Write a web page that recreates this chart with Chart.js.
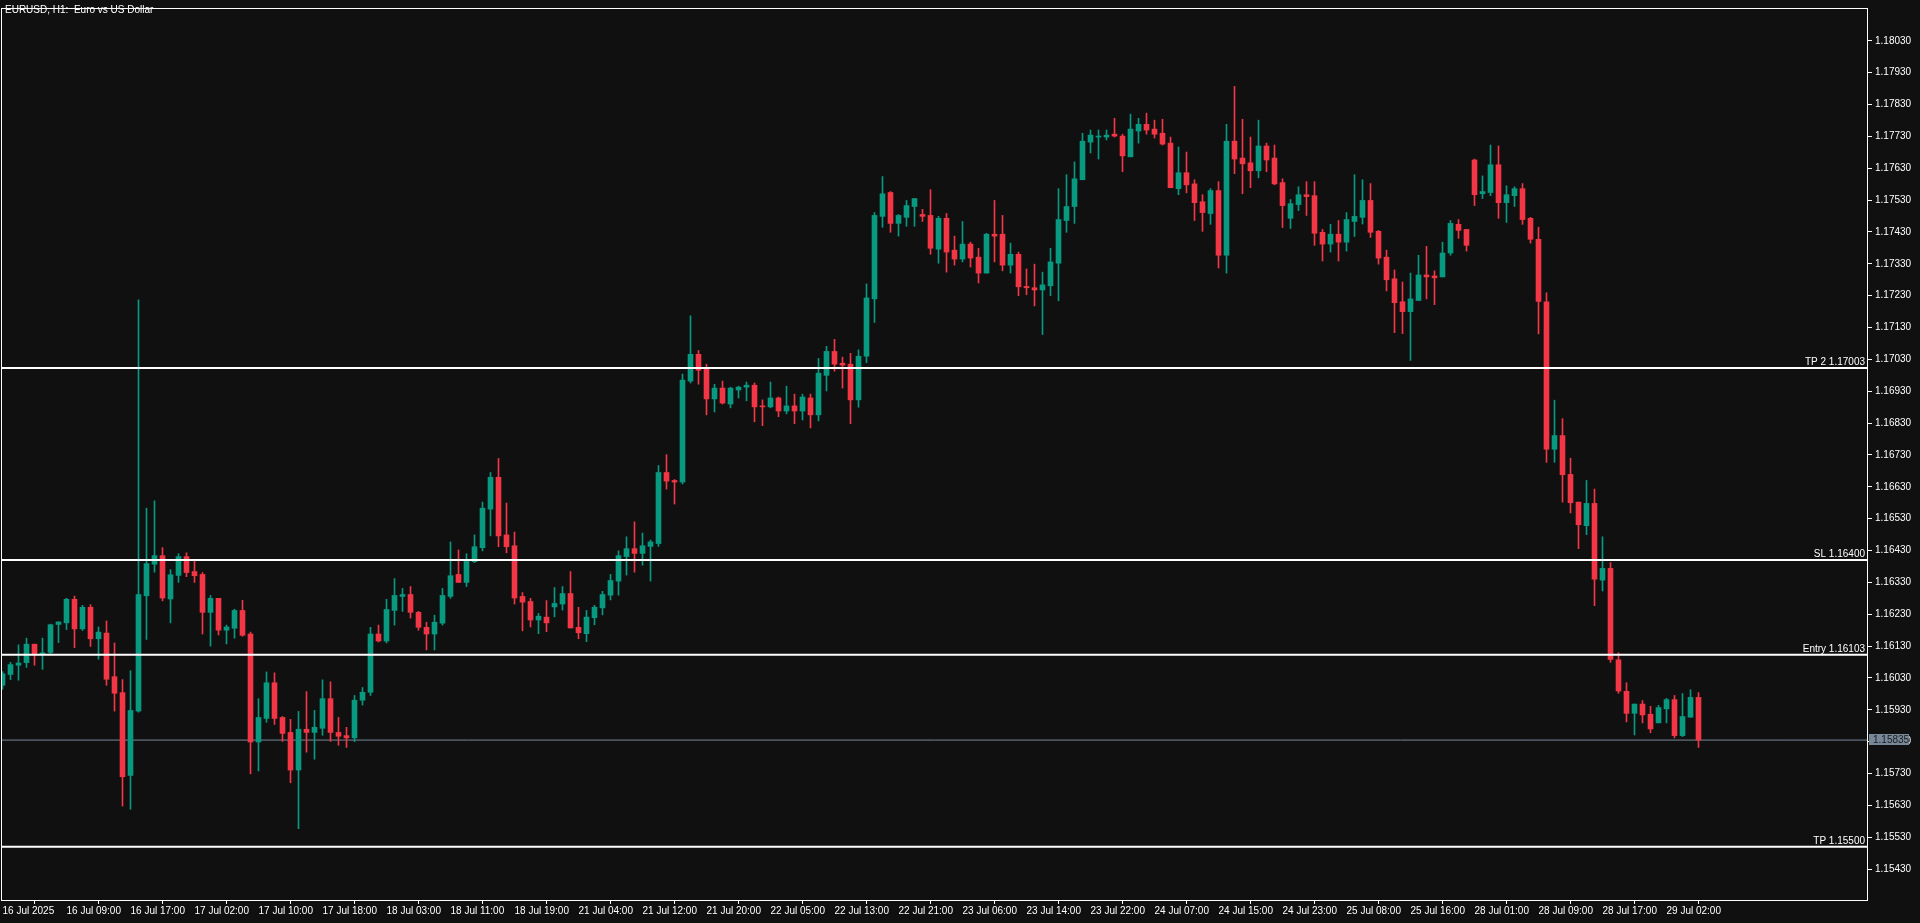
<!DOCTYPE html>
<html>
<head>
<meta charset="utf-8">
<title>EURUSD, H1</title>
<script src="https://cdn.jsdelivr.net/npm/chart.js@4.4.1/dist/chart.umd.min.js"></script>
<style>
  html, body { margin: 0; padding: 0; background: #101010; overflow: hidden; }
</style>
</head>
<body>
<canvas id="chart" width="1920" height="923"></canvas>
<script>
// x-axis labels, one every 8 hourly bars
const timeLabels = ['16 Jul 2025', '16 Jul 09:00', '16 Jul 17:00', '17 Jul 02:00', '17 Jul 10:00', '17 Jul 18:00',
    '18 Jul 03:00', '18 Jul 11:00', '18 Jul 19:00', '21 Jul 04:00', '21 Jul 12:00', '21 Jul 20:00',
    '22 Jul 05:00', '22 Jul 13:00', '22 Jul 21:00', '23 Jul 06:00', '23 Jul 14:00', '23 Jul 22:00',
    '24 Jul 07:00', '24 Jul 15:00', '24 Jul 23:00', '25 Jul 08:00', '25 Jul 16:00', '28 Jul 01:00',
    '28 Jul 09:00', '28 Jul 17:00', '29 Jul 02:00'];

const open = [
    1.16007, 1.16041, 1.16070, 1.16078, 1.16136, 1.16105, 1.16110, 1.16198, 1.16203, 1.16277,
    1.16184, 1.16252, 1.16153, 1.16171, 1.16034, 1.15984, 1.15724, 1.15926, 1.16288, 1.16387,
    1.16414, 1.16278, 1.16352, 1.16411, 1.16364, 1.16355, 1.16236, 1.16280, 1.16180, 1.16186,
    1.16242, 1.16168, 1.15829, 1.15903, 1.16015, 1.15906, 1.15859, 1.15741, 1.15869, 1.15859,
    1.15872, 1.15965, 1.15859, 1.15849, 1.15842, 1.15960, 1.15985, 1.16168, 1.16146, 1.16242,
    1.16286, 1.16292, 1.16236, 1.16189, 1.16168, 1.16202, 1.16286, 1.16355, 1.16330, 1.16395,
    1.16439, 1.16560, 1.16660, 1.16479, 1.16445, 1.16286, 1.16270, 1.16212, 1.16221, 1.16253,
    1.16262, 1.16295, 1.16189, 1.16169, 1.16219, 1.16250, 1.16290, 1.16334, 1.16411, 1.16436,
    1.16421, 1.16443, 1.16452, 1.16675, 1.16650, 1.16645, 1.16962, 1.17046, 1.16999, 1.16906,
    1.16940, 1.16890, 1.16934, 1.16943, 1.16949, 1.16884, 1.16881, 1.16909, 1.16868, 1.16884,
    1.16868, 1.16909, 1.16856, 1.16980, 1.17055, 1.17018, 1.17015, 1.16903, 1.17040, 1.17220,
    1.17479, 1.17554, 1.17457, 1.17476, 1.17510, 1.17485, 1.17482, 1.17376, 1.17473, 1.17373,
    1.17345, 1.17392, 1.17351, 1.17301, 1.17423, 1.17423, 1.17326, 1.17360, 1.17259, 1.17255,
    1.17248, 1.17261, 1.17332, 1.17466, 1.17510, 1.17594, 1.17712, 1.17728, 1.17728, 1.17737,
    1.17731, 1.17666, 1.17747, 1.17768, 1.17753, 1.17740, 1.17709, 1.17566, 1.17616, 1.17581,
    1.17525, 1.17488, 1.17560, 1.17357, 1.17715, 1.17662, 1.17647, 1.17622, 1.17700, 1.17662,
    1.17585, 1.17473, 1.17516, 1.17547, 1.17544, 1.17429, 1.17392, 1.17423, 1.17398, 1.17463,
    1.17476, 1.17529, 1.17432, 1.17351, 1.17283, 1.17211, 1.17180, 1.17215, 1.17295, 1.17292,
    1.17289, 1.17364, 1.17454, 1.17438, 1.17656, 1.17550, 1.17554, 1.17641, 1.17522, 1.17544,
    1.17566, 1.17473, 1.17407, 1.17211, 1.16748, 1.16791, 1.16669, 1.16582, 1.16508, 1.16578,
    1.16337, 1.16374, 1.16087, 1.15988, 1.15919, 1.15948, 1.15916, 1.15889, 1.15933, 1.15962,
    1.15849, 1.15907, 1.15969
];
const high = [
    1.16050, 1.16079, 1.16134, 1.16155, 1.16136, 1.16155, 1.16199, 1.16206, 1.16280, 1.16287,
    1.16258, 1.16260, 1.16190, 1.16209, 1.16140, 1.16025, 1.16053, 1.17217, 1.16563, 1.16586,
    1.16439, 1.16370, 1.16420, 1.16423, 1.16397, 1.16361, 1.16289, 1.16280, 1.16196, 1.16246,
    1.16274, 1.16174, 1.15965, 1.16049, 1.16046, 1.15909, 1.15900, 1.15925, 1.15987, 1.15928,
    1.16024, 1.16018, 1.15906, 1.15875, 1.15975, 1.16000, 1.16189, 1.16196, 1.16277, 1.16342,
    1.16311, 1.16317, 1.16239, 1.16205, 1.16227, 1.16311, 1.16457, 1.16432, 1.16420, 1.16479,
    1.16582, 1.16675, 1.16719, 1.16579, 1.16488, 1.16298, 1.16280, 1.16233, 1.16273, 1.16314,
    1.16317, 1.16364, 1.16252, 1.16242, 1.16258, 1.16302, 1.16355, 1.16429, 1.16473, 1.16520,
    1.16485, 1.16463, 1.16697, 1.16731, 1.16653, 1.16984, 1.17167, 1.17058, 1.17015, 1.16952,
    1.16962, 1.16943, 1.16946, 1.16959, 1.16956, 1.16903, 1.16959, 1.16912, 1.16946, 1.16921,
    1.16921, 1.16921, 1.17033, 1.17071, 1.17093, 1.17037, 1.17049, 1.17060, 1.17267, 1.17491,
    1.17604, 1.17557, 1.17485, 1.17529, 1.17535, 1.17501, 1.17563, 1.17479, 1.17488, 1.17417,
    1.17463, 1.17398, 1.17379, 1.17426, 1.17529, 1.17482, 1.17395, 1.17367, 1.17314, 1.17329,
    1.17304, 1.17379, 1.17566, 1.17610, 1.17650, 1.17740, 1.17750, 1.17750, 1.17750, 1.17787,
    1.17737, 1.17800, 1.17787, 1.17803, 1.17781, 1.17784, 1.17728, 1.17697, 1.17681, 1.17594,
    1.17547, 1.17566, 1.17588, 1.17768, 1.17887, 1.17784, 1.17728, 1.17781, 1.17709, 1.17703,
    1.17597, 1.17532, 1.17572, 1.17588, 1.17588, 1.17438, 1.17454, 1.17466, 1.17491, 1.17610,
    1.17594, 1.17582, 1.17435, 1.17373, 1.17311, 1.17273, 1.17301, 1.17357, 1.17385, 1.17308,
    1.17398, 1.17466, 1.17469, 1.17438, 1.17659, 1.17606, 1.17703, 1.17700, 1.17575, 1.17572,
    1.17582, 1.17476, 1.17445, 1.17239, 1.16902, 1.16844, 1.16720, 1.16582, 1.16650, 1.16623,
    1.16473, 1.16392, 1.16109, 1.16015, 1.15948, 1.15959, 1.15941, 1.15944, 1.15966, 1.15975,
    1.15981, 1.15993, 1.15984
];
const low = [
    1.15995, 1.16025, 1.16023, 1.16063, 1.16070, 1.16057, 1.16105, 1.16141, 1.16182, 1.16125,
    1.16179, 1.16129, 1.16089, 1.16007, 1.15926, 1.15628, 1.15618, 1.15923, 1.16151, 1.16362,
    1.16272, 1.16203, 1.16330, 1.16348, 1.16330, 1.16168, 1.16130, 1.16165, 1.16137, 1.16155,
    1.16161, 1.15729, 1.15738, 1.15891, 1.15884, 1.15831, 1.15701, 1.15557, 1.15797, 1.15775,
    1.15850, 1.15831, 1.15819, 1.15812, 1.15830, 1.15945, 1.15975, 1.16143, 1.16140, 1.16196,
    1.16239, 1.16218, 1.16180, 1.16118, 1.16118, 1.16196, 1.16280, 1.16330, 1.16317, 1.16392,
    1.16429, 1.16476, 1.16442, 1.16423, 1.16262, 1.16178, 1.16190, 1.16169, 1.16175, 1.16222,
    1.16243, 1.16187, 1.16153, 1.16144, 1.16197, 1.16228, 1.16275, 1.16290, 1.16353, 1.16362,
    1.16384, 1.16334, 1.16443, 1.16623, 1.16576, 1.16639, 1.16956, 1.16952, 1.16856, 1.16865,
    1.16890, 1.16878, 1.16909, 1.16900, 1.16834, 1.16822, 1.16878, 1.16850, 1.16859, 1.16828,
    1.16840, 1.16815, 1.16837, 1.16931, 1.16993, 1.16940, 1.16828, 1.16880, 1.17020, 1.17146,
    1.17445, 1.17429, 1.17417, 1.17448, 1.17448, 1.17463, 1.17360, 1.17332, 1.17304, 1.17326,
    1.17336, 1.17320, 1.17270, 1.17301, 1.17336, 1.17308, 1.17301, 1.17230, 1.17233, 1.17198,
    1.17108, 1.17230, 1.17214, 1.17429, 1.17457, 1.17594, 1.17678, 1.17659, 1.17719, 1.17728,
    1.17619, 1.17666, 1.17709, 1.17737, 1.17725, 1.17703, 1.17569, 1.17547, 1.17553, 1.17466,
    1.17432, 1.17454, 1.17317, 1.17301, 1.17613, 1.17550, 1.17569, 1.17600, 1.17619, 1.17578,
    1.17444, 1.17441, 1.17497, 1.17482, 1.17388, 1.17339, 1.17367, 1.17339, 1.17370, 1.17416,
    1.17455, 1.17413, 1.17329, 1.17245, 1.17114, 1.17111, 1.17027, 1.17215, 1.17220, 1.17202,
    1.17289, 1.17357, 1.17410, 1.17370, 1.17513, 1.17535, 1.17544, 1.17473, 1.17460, 1.17510,
    1.17454, 1.17395, 1.17110, 1.16707, 1.16707, 1.16582, 1.16548, 1.16436, 1.16480, 1.16257,
    1.16303, 1.16079, 1.15982, 1.15892, 1.15851, 1.15889, 1.15858, 1.15889, 1.15889, 1.15842,
    1.15846, 1.15907, 1.15812
];
const close = [
    1.16043, 1.16072, 1.16077, 1.16136, 1.16105, 1.16109, 1.16197, 1.16206, 1.16277, 1.16184,
    1.16252, 1.16153, 1.16174, 1.16026, 1.15982, 1.15720, 1.15928, 1.16292, 1.16389, 1.16414,
    1.16281, 1.16354, 1.16411, 1.16361, 1.16351, 1.16236, 1.16280, 1.16180, 1.16190, 1.16242,
    1.16164, 1.15829, 1.15906, 1.16015, 1.15903, 1.15856, 1.15741, 1.15869, 1.15859, 1.15875,
    1.15965, 1.15859, 1.15847, 1.15842, 1.15960, 1.15985, 1.16168, 1.16146, 1.16245, 1.16289,
    1.16292, 1.16236, 1.16189, 1.16168, 1.16205, 1.16289, 1.16351, 1.16330, 1.16398, 1.16442,
    1.16563, 1.16660, 1.16476, 1.16442, 1.16281, 1.16268, 1.16212, 1.16224, 1.16203, 1.16264,
    1.16295, 1.16187, 1.16172, 1.16221, 1.16252, 1.16292, 1.16336, 1.16414, 1.16436, 1.16421,
    1.16445, 1.16457, 1.16675, 1.16648, 1.16645, 1.16965, 1.17046, 1.16996, 1.16906, 1.16940,
    1.16893, 1.16940, 1.16943, 1.16949, 1.16881, 1.16881, 1.16909, 1.16868, 1.16884, 1.16868,
    1.16912, 1.16856, 1.16987, 1.17055, 1.17015, 1.17012, 1.16903, 1.17040, 1.17223, 1.17482,
    1.17550, 1.17457, 1.17482, 1.17513, 1.17535, 1.17479, 1.17379, 1.17473, 1.17367, 1.17345,
    1.17392, 1.17348, 1.17301, 1.17423, 1.17417, 1.17326, 1.17360, 1.17258, 1.17255, 1.17248,
    1.17264, 1.17336, 1.17469, 1.17510, 1.17597, 1.17715, 1.17734, 1.17731, 1.17734, 1.17731,
    1.17669, 1.17753, 1.17768, 1.17750, 1.17737, 1.17706, 1.17569, 1.17616, 1.17578, 1.17522,
    1.17491, 1.17560, 1.17357, 1.17715, 1.17659, 1.17644, 1.17622, 1.17700, 1.17656, 1.17581,
    1.17513, 1.17519, 1.17547, 1.17541, 1.17426, 1.17392, 1.17423, 1.17398, 1.17469, 1.17479,
    1.17529, 1.17429, 1.17348, 1.17280, 1.17208, 1.17180, 1.17220, 1.17295, 1.17289, 1.17286,
    1.17364, 1.17457, 1.17435, 1.17388, 1.17547, 1.17557, 1.17641, 1.17522, 1.17547, 1.17566,
    1.17469, 1.17407, 1.17212, 1.16748, 1.16791, 1.16668, 1.16580, 1.16511, 1.16578, 1.16340,
    1.16374, 1.16088, 1.15989, 1.15919, 1.15948, 1.15914, 1.15870, 1.15937, 1.15962, 1.15849,
    1.15909, 1.15969, 1.15835
];

// trade levels drawn as horizontal lines
const levelNames = ['TP 2', 'SL', 'Entry', 'TP'];
const levelValues = [1.17003, 1.16400, 1.16103, 1.15500];
const lastPrice = 1.15835;

const priceTicks = [1.15430, 1.15530, 1.15630, 1.15730, 1.15830, 1.15930, 1.16030, 1.16130, 1.16230,
    1.16330, 1.16430, 1.16530, 1.16630, 1.16730, 1.16830, 1.16930, 1.17030, 1.17130, 1.17230,
    1.17330, 1.17430, 1.17530, 1.17630, 1.17730, 1.17830, 1.17930, 1.18030];

const xMin = -0.0625;
const xMax = 233.0625;
const yMin = 1.15333;
const yMax = 1.18130;

const upColor = '#089981';
const downColor = '#f23645';
const textColor = '#ffffff';
const font = { family: "'Liberation Sans', Arial, sans-serif", size: 10 };

const colors = open.map((o, i) => close[i] >= o ? upColor : downColor);
const wickData = open.map((o, i) => ({ x: i, y: [low[i], high[i]] }));
const bodyData = open.map((o, i) => ({ x: i, y: [o, close[i]] }));

const levelSets = levelValues.map((v) => ({
    type: 'line',
    data: [{ x: xMin, y: v }, { x: xMax, y: v }],
    borderColor: '#ffffff',
    borderWidth: 2,
    pointRadius: 0,
    order: 0
}));

// frame, title, level captions and the last price tag
const overlay = {
    id: 'overlay',
    afterDraw(chart) {
        const c = chart.ctx;
        const a = chart.chartArea;
        const y = chart.scales.y;
        c.save();
        c.strokeStyle = '#ffffff';
        c.lineWidth = 1;
        c.strokeRect(a.left - 0.5, a.top - 0.5, a.right - a.left + 1, a.bottom - a.top + 1);

        c.font = "10px 'Liberation Sans', Arial, sans-serif";
        c.fillStyle = textColor;
        c.textBaseline = 'alphabetic';
        c.textAlign = 'left';
        c.fillText('EURUSD, H1:  Euro vs US Dollar', 5, 13);

        c.textAlign = 'right';
        levelValues.forEach((v, i) => {
            c.fillText(levelNames[i] + ' ' + v.toFixed(5), a.right - 2, y.getPixelForValue(v) - 3);
        });

        const py = Math.round(y.getPixelForValue(lastPrice));
        c.fillStyle = '#778899';
        c.fillRect(a.right + 2, py - 6, 40, 11);
        c.fillStyle = '#1c1c1c';
        c.textAlign = 'left';
        c.textBaseline = 'middle';
        c.fillText(lastPrice.toFixed(5), a.right + 6, py);
        c.restore();
    }
};

const ctx = document.getElementById('chart').getContext('2d');

const chart = new Chart(ctx, {
    type: 'bar',
    data: {
        datasets: [
            ...levelSets,
            {
                type: 'line',
                data: [{ x: xMin, y: lastPrice }, { x: xMax, y: lastPrice }],
                borderColor: '#778899',
                borderWidth: 1,
                pointRadius: 0,
                order: 3
            },
            {
                label: 'body',
                data: bodyData,
                backgroundColor: colors,
                barThickness: 5,
                minBarLength: 1,
                grouped: false,
                order: 1
            },
            {
                label: 'wick',
                data: wickData,
                backgroundColor: colors,
                barThickness: 1,
                grouped: false,
                order: 2
            }
        ]
    },
    options: {
        responsive: false,
        animation: false,
        events: [],
        layout: { padding: { left: 2, top: 2, right: 0, bottom: 0 } },
        plugins: {
            legend: { display: false },
            tooltip: { enabled: false }
        },
        scales: {
            x: {
                type: 'linear',
                min: xMin,
                max: xMax,
                offset: false,
                grid: { drawOnChartArea: false, tickLength: 4, color: '#ffffff' },
                border: { display: false },
                afterBuildTicks: (s) => { s.ticks = timeLabels.map((t, k) => ({ value: k * 8 })); },
                afterFit: (s) => { s.height = 23; },
                ticks: {
                    autoSkip: false,
                    maxRotation: 0,
                    minRotation: 0,
                    align: 'start',
                    padding: 1,
                    color: textColor,
                    font: font,
                    callback: (v) => timeLabels[Math.round(v / 8)]
                }
            },
            y: {
                type: 'linear',
                position: 'right',
                min: yMin,
                max: yMax,
                grid: { drawOnChartArea: false, tickLength: 5, color: '#ffffff' },
                border: { display: false },
                afterBuildTicks: (s) => { s.ticks = priceTicks.map((v) => ({ value: v })); },
                afterFit: (s) => { s.width = 53; },
                ticks: {
                    color: textColor,
                    padding: 3,
                    font: font,
                    callback: (v) => v.toFixed(5)
                }
            }
        }
    },
    plugins: [overlay]
});
</script>
</body>
</html>
